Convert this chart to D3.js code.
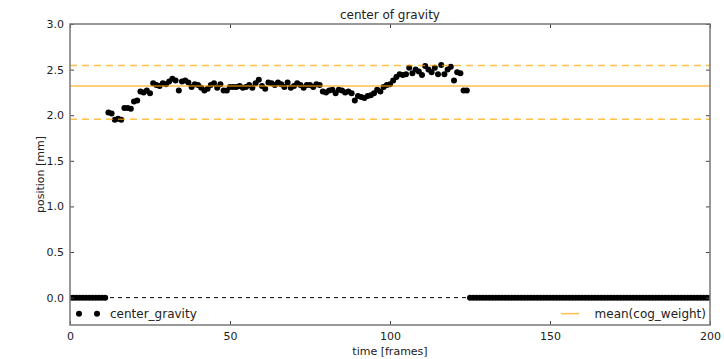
<!DOCTYPE html>
<html>
<head>
<meta charset="utf-8">
<script src="https://cdn.jsdelivr.net/npm/d3@7"></script>
<style>
  html, body { margin: 0; padding: 0; background: #fff; }
  svg { display: block; font-family: "DejaVu Sans", sans-serif; }
</style>
</head>
<body>
<svg id="chart" width="724" height="359"></svg>
<script>
// Center-of-gravity position per frame (mm); frames without contact read 0.
const leadingZeroFrames = 12;          // frames 0..11
const activeStartFrame = 12;
const activeValues = [
  2.03, 2.02, 1.95, 1.96, 1.95, 2.08, 2.08, 2.07, 2.15, 2.16,
  2.26, 2.25, 2.27, 2.24, 2.35, 2.33, 2.32, 2.35, 2.34, 2.37,
  2.40, 2.38, 2.27, 2.37, 2.38, 2.36, 2.31, 2.34, 2.33, 2.30,
  2.27, 2.29, 2.33, 2.35, 2.30, 2.34, 2.27, 2.27, 2.31, 2.31,
  2.31, 2.32, 2.30, 2.31, 2.33, 2.30, 2.35, 2.39, 2.32, 2.29,
  2.36, 2.35, 2.33, 2.36, 2.34, 2.31, 2.36, 2.30, 2.32, 2.35,
  2.33, 2.30, 2.33, 2.33, 2.31, 2.34, 2.33, 2.26, 2.25, 2.27,
  2.28, 2.24, 2.28, 2.27, 2.25, 2.26, 2.24, 2.16, 2.21, 2.20,
  2.19, 2.21, 2.22, 2.24, 2.28, 2.26, 2.31, 2.33, 2.34, 2.38,
  2.42, 2.45, 2.44, 2.45, 2.52, 2.46, 2.50, 2.48, 2.44, 2.54,
  2.50, 2.47, 2.52, 2.45, 2.55, 2.45, 2.50, 2.53, 2.38, 2.47,
  2.46, 2.27, 2.27
];
const lastFrame = 200;

// Reference levels of the cog weight
const meanLevel = 2.32;
const upperLevel = 2.545;
const lowerLevel = 1.955;

const xTicks = [0, 50, 100, 150, 200];
const yTicks = [0.0, 0.5, 1.0, 1.5, 2.0, 2.5, 3.0];

const titleText = "center of gravity";
const xLabelText = "time [frames]";
const yLabelText = "position [mm]";
const seriesName = "center_gravity";
const meanName = "mean(cog_weight)";

// Assemble the full per-frame series
const points = [];
for (let f = 0; f < leadingZeroFrames; f++) points.push({ f, v: 0 });
activeValues.forEach((v, i) => points.push({ f: activeStartFrame + i, v }));
for (let f = activeStartFrame + activeValues.length; f <= lastFrame; f++) points.push({ f, v: 0 });

const svg = d3.select("#chart");
const m = { left: 70, right: 14, top: 24, bottom: 34 };
const W = 724, H = 359;
const iw = W - m.left - m.right, ih = H - m.top - m.bottom;

const x = d3.scaleLinear().domain([0, 200]).range([0, iw]);
const y = d3.scaleLinear().domain([-0.3, 3.0]).range([ih, 0]);

const g = svg.append("g").attr("transform", `translate(${m.left},${m.top})`);

svg.append("defs").append("clipPath").attr("id", "plotclip")
  .append("rect").attr("x", 0).attr("y", 0).attr("width", iw).attr("height", ih);

const plot = g.append("g").attr("clip-path", "url(#plotclip)");

// Zero baseline
plot.append("line")
  .attr("x1", x(0)).attr("x2", x(200))
  .attr("y1", y(0)).attr("y2", y(0))
  .attr("stroke", "#000").attr("stroke-width", 1)
  .attr("stroke-dasharray", "4,4");

// Data points
plot.selectAll("circle.pt").data(points).enter().append("circle")
  .attr("class", "pt")
  .attr("cx", d => x(d.f)).attr("cy", d => y(d.v))
  .attr("r", 3).attr("fill", "#000");

// Mean and bound lines (semi-transparent, drawn on top)
const orange = "#ffa500";
const lineOpacity = 0.7;
plot.append("line")
  .attr("x1", x(0)).attr("x2", x(200))
  .attr("y1", y(meanLevel)).attr("y2", y(meanLevel))
  .attr("stroke", orange).attr("stroke-opacity", lineOpacity).attr("stroke-width", 1.5);
[upperLevel, lowerLevel].forEach(lv => {
  plot.append("line")
    .attr("x1", x(0)).attr("x2", x(200))
    .attr("y1", y(lv)).attr("y2", y(lv))
    .attr("stroke", orange).attr("stroke-opacity", lineOpacity).attr("stroke-width", 1.5)
    .attr("stroke-dasharray", "7,5");
});

// Axes with inward ticks on all sides
const tickColor = "#444";
const axisStyle = sel => {
  sel.select(".domain").remove();
  sel.selectAll(".tick line").attr("stroke", tickColor);
  sel.selectAll(".tick text").attr("fill", "#222").attr("font-size", 11)
    .attr("font-family", "DejaVu Sans, sans-serif");
};
g.append("g").attr("transform", `translate(0,${ih})`)
  .call(d3.axisBottom(x).tickValues(xTicks).tickFormat(d3.format("d")).tickSizeInner(-4).tickPadding(7))
  .call(axisStyle);
g.append("g")
  .call(d3.axisTop(x).tickValues(xTicks).tickFormat("").tickSizeInner(-4))
  .call(axisStyle);
g.append("g")
  .call(d3.axisLeft(y).tickValues(yTicks).tickFormat(d3.format(".1f")).tickSizeInner(-4).tickPadding(6))
  .call(axisStyle);
g.append("g").attr("transform", `translate(${iw},0)`)
  .call(d3.axisRight(y).tickValues(yTicks).tickFormat("").tickSizeInner(-4))
  .call(axisStyle);

// Frame
g.append("rect").attr("x", 0).attr("y", 0).attr("width", iw).attr("height", ih)
  .attr("fill", "none").attr("stroke", "#777").attr("stroke-width", 1.5);

// Title and axis labels
svg.append("text").attr("x", m.left + iw / 2).attr("y", 19)
  .attr("text-anchor", "middle").attr("font-size", 12).attr("fill", "#222").text(titleText);
svg.append("text").attr("x", m.left + iw / 2).attr("y", 355)
  .attr("text-anchor", "middle").attr("font-size", 11).attr("fill", "#222").text(xLabelText);
svg.append("text").attr("transform", `translate(44,${m.top + ih / 2}) rotate(-90)`)
  .attr("text-anchor", "middle").attr("font-size", 11).attr("fill", "#222").text(yLabelText);

// Legends
const legY = y(0) + 16;
[9, 27].forEach(dx => {
  g.append("circle").attr("cx", dx).attr("cy", legY).attr("r", 3).attr("fill", "#000");
});
g.append("text").attr("x", 40).attr("y", legY + 4).attr("font-size", 12)
  .attr("fill", "#222").text(seriesName);
g.append("line").attr("x1", 491).attr("x2", 509).attr("y1", legY).attr("y2", legY)
  .attr("stroke", orange).attr("stroke-opacity", lineOpacity).attr("stroke-width", 1.5);
g.append("text").attr("x", 636).attr("y", legY + 4).attr("font-size", 12)
  .attr("text-anchor", "end").attr("fill", "#222").text(meanName);
</script>
</body>
</html>
